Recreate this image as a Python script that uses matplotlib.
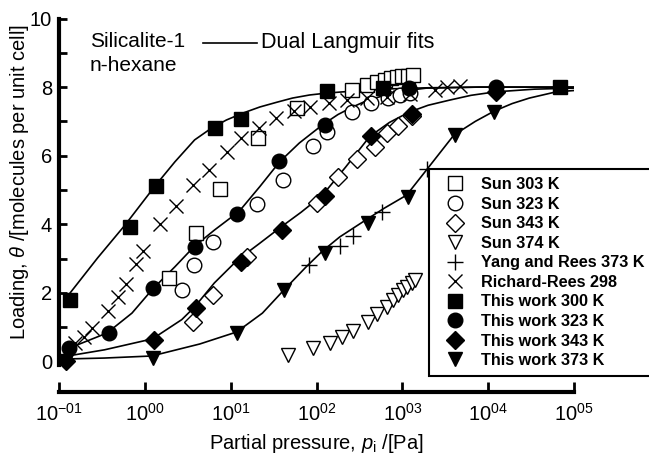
import matplotlib
matplotlib.use("Agg")
import matplotlib.pyplot as plt
import numpy as np

plt.rcParams['font.family'] = ['Liberation Sans', 'DejaVu Sans']
plt.rcParams['mathtext.fontset'] = 'custom'
plt.rcParams['mathtext.rm'] = 'Liberation Sans'
plt.rcParams['mathtext.it'] = 'Liberation Sans:italic'

# datos: presion parcial [Pa] y carga [moleculas/celda]
sun303_p = [1.9, 3.9, 7.5, 20.6, 60, 262, 392, 512, 631, 745, 875, 1000, 1175, 1343]
sun303_q = [2.43, 3.75, 5.03, 6.51, 7.39, 7.92, 8.06, 8.15, 8.21, 8.26, 8.29, 8.32, 8.32, 8.35]

sun323_p = [2.7, 3.7, 6.3, 20, 41, 92, 134, 262, 437, 687, 948, 1240]
sun323_q = [2.08, 2.81, 3.48, 4.59, 5.29, 6.28, 6.69, 7.27, 7.54, 7.68, 7.77, 7.83]

sun343_p = [3.6, 6.3, 15.3, 100, 180, 300, 485, 670, 900, 1300]
sun343_q = [1.15, 1.94, 3.05, 4.62, 5.38, 5.9, 6.25, 6.66, 6.86, 7.16]

sun374_p = [46, 92, 142, 200, 269, 403, 512, 670, 786, 898, 1027, 1143, 1306, 1416]
sun374_q = [0.19, 0.39, 0.54, 0.71, 0.89, 1.15, 1.38, 1.59, 1.79, 1.94, 2.08, 2.17, 2.29, 2.38]

yang_p = [81, 190, 269, 585, 1950]
yang_q = [2.81, 3.37, 3.66, 4.36, 5.6]

richard_p = [0.153, 0.195, 0.242, 0.372, 0.485, 0.60, 0.785, 0.95, 1.49, 2.29, 3.61, 5.54, 8.97,
             13.1, 21.2, 33.4, 54, 85, 138, 229, 392, 670, 1240, 2420, 3330, 4720]
richard_q = [0.54, 0.71, 0.98, 1.47, 1.88, 2.26, 2.84, 3.22, 4.0, 4.53, 5.15, 5.58, 6.1,
             6.51, 6.8, 7.1, 7.3, 7.42, 7.54, 7.62, 7.68, 7.71, 7.8, 7.92, 8.0, 8.03]

tw300_p = [0.134, 0.67, 1.34, 6.5, 13.1, 131, 600, 68700]
tw300_q = [1.79, 3.92, 5.12, 6.81, 7.07, 7.89, 7.97, 8.0]

tw323_p = [0.13, 0.38, 1.24, 3.81, 12.0, 36.1, 127, 1200, 12400]
tw323_q = [0.39, 0.83, 2.14, 3.34, 4.30, 5.84, 6.89, 7.97, 8.0]

tw343_p = [0.12, 1.27, 3.92, 13.1, 39.2, 127, 437, 1306, 12400]
tw343_q = [0.0, 0.63, 1.56, 2.9, 3.83, 4.82, 6.57, 7.22, 7.86]

tw373_p = [0.12, 1.24, 12.0, 41.3, 124, 403, 1175, 4130, 11750]
tw373_q = [0.0, 0.1, 0.83, 2.08, 3.16, 4.04, 4.8, 6.6, 7.27]

# curvas Dual Langmuir (log10 p, carga) trazadas sobre la figura
fit300_logp = [-0.87, -0.55, -0.23, 0.12, 0.35, 0.58, 0.78, 0.95, 1.14, 1.34, 1.54, 1.72, 1.92, 2.1, 2.3, 2.6, 2.88, 3.3, 3.9, 5.0]
fit300_q = [2.0, 3.02, 3.98, 5.12, 5.82, 6.46, 6.81, 7.04, 7.24, 7.42, 7.56, 7.68, 7.77, 7.82, 7.86, 7.91, 7.95, 7.98, 8.0, 8.0]

fit323_logp = [-0.93, -0.44, -0.15, 0.09, 0.35, 0.57, 0.81, 1.1, 1.34, 1.57, 1.8, 2.07, 2.25, 2.42, 2.6, 2.81, 3.05, 3.28, 3.9, 5.0]
fit323_q = [0.34, 0.83, 1.41, 2.11, 2.76, 3.34, 3.83, 4.38, 5.1, 5.82, 6.37, 6.9, 7.2, 7.42, 7.62, 7.77, 7.9, 7.97, 8.0, 8.0]

fit343_logp = [-0.97, -0.47, 0.09, 0.43, 0.58, 0.81, 1.08, 1.33, 1.57, 1.82, 2.07, 2.34, 2.62, 2.85, 3.08, 3.3, 3.55, 3.8, 4.08, 4.54, 5.0]
fit343_q = [0.13, 0.34, 0.66, 1.22, 1.59, 2.29, 2.96, 3.43, 3.89, 4.35, 4.85, 5.67, 6.56, 6.97, 7.27, 7.47, 7.62, 7.76, 7.86, 7.94, 7.97]

fit373_logp = [-0.97, -0.47, 0.08, 0.64, 1.07, 1.37, 1.6, 1.88, 2.07, 2.27, 2.54, 2.79, 3.05, 3.28, 3.6, 3.85, 4.07, 4.28, 4.48, 4.79, 5.0]
fit373_q = [0.07, 0.1, 0.16, 0.51, 0.86, 1.41, 2.03, 2.76, 3.22, 3.63, 4.07, 4.47, 4.85, 5.58, 6.6, 7.0, 7.3, 7.52, 7.68, 7.86, 7.9]

xticks = [0.1, 1, 10, 100, 1000, 1e4, 1e5]
xticklabels = [r'$10^{-01}$', r'$10^{00}$', r'$10^{01}$', r'$10^{02}$', r'$10^{03}$', r'$10^{04}$', r'$10^{05}$']

W, H = 649, 458
fig = plt.figure(figsize=(W / 100, H / 100), dpi=100)
ax = fig.add_axes([59 / W, 1 - 392 / H, (574 - 59) / W, (392 - 18.5) / H])

for lp, q in [(fit300_logp, fit300_q), (fit323_logp, fit323_q),
              (fit343_logp, fit343_q), (fit373_logp, fit373_q)]:
    ax.plot(10 ** np.array(lp), q, color='black', lw=1.2, zorder=2)

ms = 10.5
open_kw = dict(ls='none', mfc='white', mec='black', mew=1.0, ms=ms, zorder=3)
fill_kw = dict(ls='none', color='black', ms=ms, zorder=4)

ax.plot(sun303_p, sun303_q, marker='s', label='Sun 303 K', **open_kw)
ax.plot(sun323_p, sun323_q, marker='o', label='Sun 323 K', **open_kw)
ax.plot(sun343_p, sun343_q, marker='D', label='Sun 343 K', **{**open_kw, 'ms': 9})
ax.plot(sun374_p, sun374_q, marker='v', label='Sun 374 K', **open_kw)
ax.plot(yang_p, yang_q, marker='+', ls='none', color='black', mew=1.0, ms=ms + 1, zorder=3,
        label='Yang and Rees 373 K')
ax.plot(richard_p, richard_q, marker='x', ls='none', color='black', mew=1.0, ms=ms, zorder=3,
        label='Richard-Rees 298')
ax.plot(tw300_p, tw300_q, marker='s', label='This work 300 K', **fill_kw)
ax.plot(tw323_p, tw323_q, marker='o', label='This work 323 K', **fill_kw)
ax.plot(tw343_p, tw343_q, marker='D', label='This work 343 K', **{**fill_kw, 'ms': 9})
ax.plot(tw373_p, tw373_q, marker='v', label='This work 373 K', **fill_kw)

ax.set_xscale('log')
ax.set_xlim(0.1, 1e5)
ax.set_ylim(-0.89, 10)
ax.set_xticks(xticks)
ax.set_xticklabels(xticklabels)
ax.minorticks_off()
ax.set_yticks(range(0, 11, 2))
ax.set_yticks(range(1, 10, 2), minor=True)

for s in ['top', 'right']:
    ax.spines[s].set_visible(False)
ax.spines['left'].set_linewidth(3)
ax.spines['bottom'].set_linewidth(3)
ax.spines['left'].set_bounds(-0.1, 10)
ax.tick_params(axis='y', which='both', direction='in', length=6, width=2, labelsize=14.5, pad=5)
ax.tick_params(axis='x', which='major', direction='in', length=7, width=2, labelsize=14.5, pad=8)

ax.set_xlabel(r'Partial pressure, $p_\mathrm{i}$ /[Pa]', fontsize=14.5)
ax.xaxis.set_label_coords(0.5, -(449 - 392) / 373.5, transform=ax.transAxes)
ax.xaxis.label.set_va('baseline')
ax.set_ylabel(r'Loading, $\theta$ /[molecules per unit cell]', fontsize=14.5)
ax.yaxis.set_label_coords(-(59 - 20) / 515, (392 - 182) / 373.5)
ax.yaxis.label.set_va('center')

fig.text(90 / W, 1 - 47 / H, 'Silicalite-1', fontsize=15, va='baseline')
fig.text(90 / W, 1 - 71 / H, 'n-hexane', fontsize=15, va='baseline')
fig.add_artist(plt.Line2D([203 / W, 257 / W], [1 - 43 / H, 1 - 43 / H], color='black', lw=1.2))
fig.text(261 / W, 1 - 48 / H, 'Dual Langmuir fits', fontsize=15.5, va='baseline')

leg = ax.legend(loc='upper left', bbox_to_anchor=(429 / W, 1 - 169 / H),
                bbox_transform=fig.transFigure, borderaxespad=0, fancybox=False,
                framealpha=1, edgecolor='black', prop={'weight': 'bold', 'size': 11.7},
                labelspacing=0.28, handlelength=2.2, handletextpad=0.5, borderpad=0.5)
leg.get_frame().set_linewidth(1.5)

fig.savefig('out.png', dpi=100)
